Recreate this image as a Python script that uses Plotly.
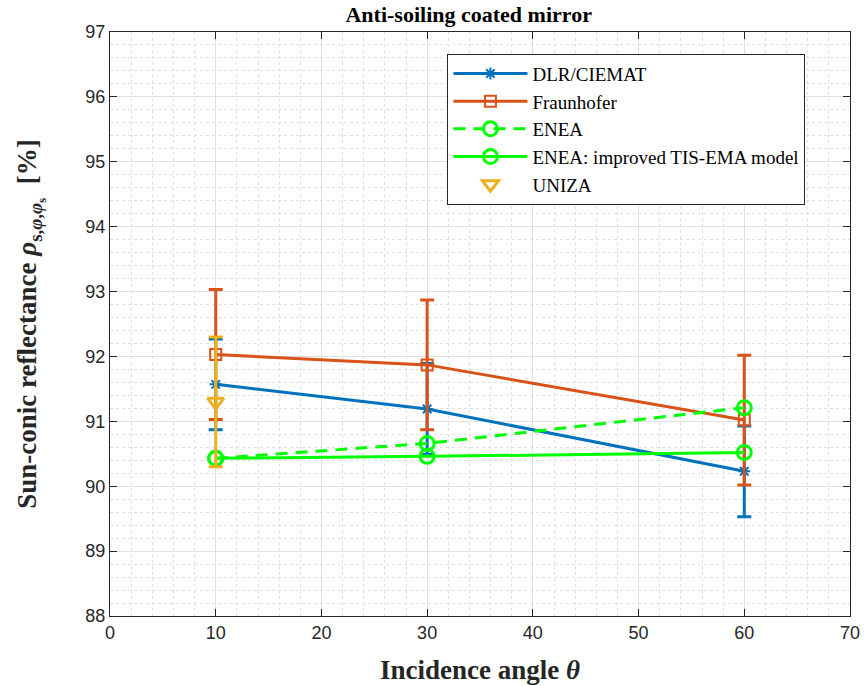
import plotly.graph_objects as go

# Incidence angles (deg)
angles = [10, 30, 60]

# Sun-conic reflectance (%) per lab / model
dlr_vals = [91.57, 91.19, 90.23]
dlr_err = [0.7, 0.7, 0.7]
fraun_vals = [92.03, 91.87, 91.02]
fraun_err = [1.0, 1.0, 1.0]
enea_vals = [90.43, 90.66, 91.21]
enea_tis_vals = [90.43, 90.46, 90.52]
uniza_angles = [10]
uniza_vals = [91.3]
uniza_err = [1.0]

x_ticks = [0, 10, 20, 30, 40, 50, 60, 70]
y_ticks = [88, 89, 90, 91, 92, 93, 94, 95, 96, 97]

BLUE = "#0072BD"
ORANGE = "#D95319"
GREEN = "#00FF00"
YELLOW = "#EDB120"
SERIF = "Liberation Serif, Times New Roman"

fig = go.Figure()

fig.add_trace(go.Scatter(
    x=angles, y=dlr_vals, name="DLR/CIEMAT", mode="lines+markers",
    line=dict(color=BLUE, width=3),
    marker=dict(symbol="asterisk-open", size=10, color=BLUE, line=dict(color=BLUE, width=2)),
    error_y=dict(type="data", array=dlr_err, visible=True, color=BLUE, thickness=3, width=7),
))
fig.add_trace(go.Scatter(
    x=angles, y=fraun_vals, name="Fraunhofer", mode="lines+markers",
    line=dict(color=ORANGE, width=3),
    marker=dict(symbol="square-open", size=11, color=ORANGE, line=dict(color=ORANGE, width=2)),
    error_y=dict(type="data", array=fraun_err, visible=True, color=ORANGE, thickness=3, width=7),
))
fig.add_trace(go.Scatter(
    x=angles, y=enea_vals, name="ENEA", mode="lines+markers",
    line=dict(color=GREEN, width=3, dash="12px,8px"),
    marker=dict(symbol="circle-open", size=14, color=GREEN, line=dict(color=GREEN, width=3)),
))
fig.add_trace(go.Scatter(
    x=angles, y=enea_tis_vals, name="ENEA: improved TIS-EMA model", mode="lines+markers",
    line=dict(color=GREEN, width=3),
    marker=dict(symbol="circle-open", size=14, color=GREEN, line=dict(color=GREEN, width=3)),
))
fig.add_trace(go.Scatter(
    x=uniza_angles, y=uniza_vals, name="UNIZA", mode="markers",
    marker=dict(symbol="triangle-down-open", size=14, color=YELLOW, line=dict(color=YELLOW, width=3)),
    error_y=dict(type="data", array=uniza_err, visible=True, color=YELLOW, thickness=3, width=7),
))

axis_common = dict(
    showline=True, linecolor="#262626", linewidth=1, mirror="ticks",
    ticks="inside", ticklen=7, tickcolor="#262626",
    showgrid=True, gridcolor="#E0E0E0", gridwidth=1,
    zeroline=False, automargin=False,
    tickfont=dict(family="Liberation Sans, Arial", size=18, color="#262626"),
)

fig.update_xaxes(
    range=[0, 70], tickvals=x_ticks, ticktext=[str(v) for v in x_ticks],
    minor=dict(dtick=2, showgrid=True, gridcolor="#E0E0E0", griddash="dot", ticks=""),
    title=dict(text="<b>Incidence angle <i>θ</i></b>",
               font=dict(family=SERIF, size=27, color="#262626"),
               standoff=18),
    **axis_common,
)
fig.update_yaxes(
    range=[88, 97], tickvals=y_ticks, ticktext=[str(v) for v in y_ticks],
    minor=dict(dtick=0.2, showgrid=True, gridcolor="#E0E0E0", griddash="dot", ticks=""),
    title=dict(text="<b>Sun-conic reflectance <i>ρ</i><sub>s,<i>φ</i>,<i>φ</i><sub>s</sub></sub>  [%]</b>",
               font=dict(family=SERIF, size=27, color="#262626"),
               standoff=40),
    **axis_common,
)

fig.update_layout(
    width=868, height=686,
    margin=dict(l=110, r=18, t=32, b=70),
    paper_bgcolor="white", plot_bgcolor="white",
    title=dict(text="<b>Anti-soiling coated mirror</b>", x=0.54, xanchor="center",
               y=0.99, yanchor="top",
               font=dict(family=SERIF, size=22, color="black")),
    font=dict(family=SERIF),
    legend=dict(
        x=0.456, y=0.963, xanchor="left", yanchor="top",
        bgcolor="white", bordercolor="#262626", borderwidth=1,
        font=dict(family=SERIF, size=19, color="black"),
        itemwidth=74, tracegroupgap=0,
    ),
    showlegend=True,
)

fig.write_html("out.html")
